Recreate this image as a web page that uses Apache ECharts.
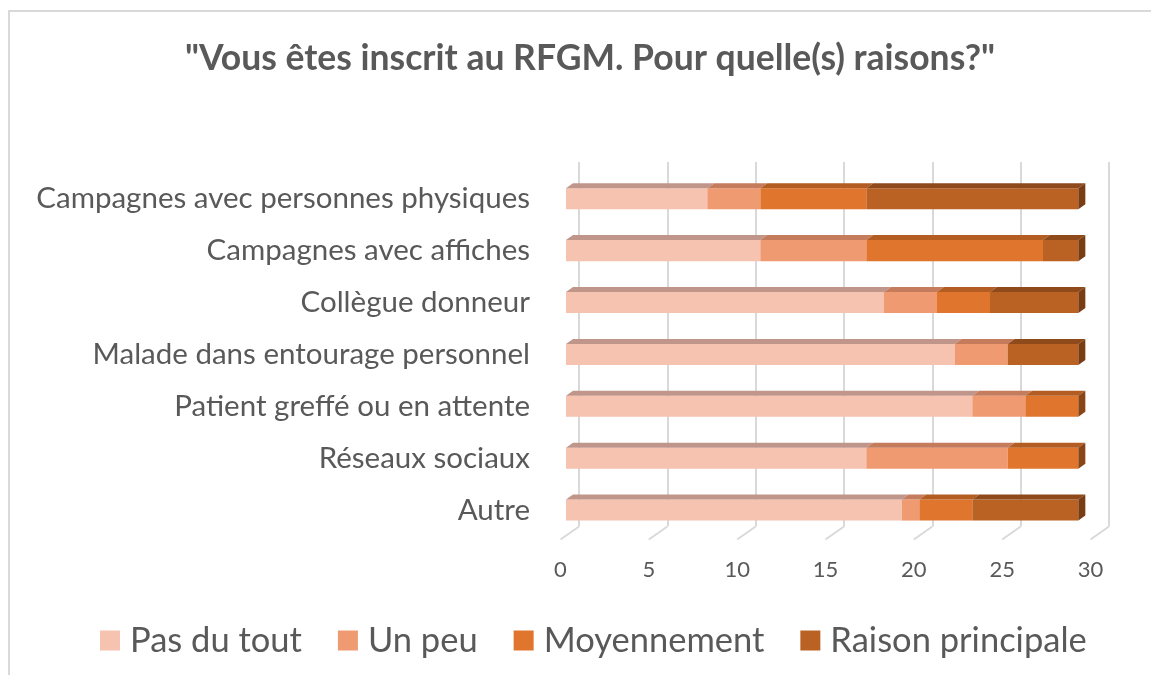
<!DOCTYPE html>
<html>
<head>
<meta charset="utf-8">
<script src="https://cdn.jsdelivr.net/npm/echarts@6/dist/echarts.min.js"></script>
<style>
  html, body { margin: 0; padding: 0; background: #fff; }
  #chart { width: 1151px; height: 675px; }
</style>
</head>
<body>
<div id="chart"></div>
<script>
// données
const categories = [
  'Campagnes avec personnes physiques',
  'Campagnes avec affiches',
  'Collègue donneur',
  'Malade dans entourage personnel',
  'Patient greffé ou en attente',
  'Réseaux sociaux',
  'Autre'
]
const seriesNames = ['Pas du tout', 'Un peu', 'Moyennement', 'Raison principale']
const pasDuTout = [8, 11, 18, 22, 23, 17, 19]
const unPeu = [3, 6, 3, 3, 3, 8, 1]
const moyennement = [6, 10, 3, 0, 3, 4, 3]
const raisonPrincipale = [12, 2, 5, 4, 0, 0, 6]
const axisTicks = [0, 5, 10, 15, 20, 25, 30]

const frontColors = ['#F5C3AF', '#F09A72', '#E0752D', '#BA6124']
const topColors = ['#C0968A', '#C47C5C', '#B35D22', '#8E4A1B']
const sideColors = ['#9A7268', '#9E5E44', '#8A4517', '#7A3C13']
const textColor = '#595959'
const font = 'Lato'
// décalage de profondeur (effet 3D)
const dx = 7
const dy = 5

const chart = echarts.init(document.getElementById('chart'))

const allValues = [pasDuTout, unPeu, moyennement, raisonPrincipale]
const totals = categories.map((c, k) => allValues.reduce((s, arr) => s + arr[k], 0))

function bar3dSeries(idx) {
  const values = allValues[idx]
  const data = values.map((v, k) => {
    let start = 0
    for (let j = 0; j < idx; j++) start += allValues[j][k]
    const end = start + v
    return [start, end, k, end === totals[k] ? 1 : 0]
  })
  return {
    type: 'custom',
    name: seriesNames[idx],
    xAxisIndex: 0,
    yAxisIndex: 0,
    itemStyle: { color: frontColors[idx] },
    encode: { x: [0, 1], y: 2 },
    data: data,
    renderItem: function (params, api) {
      const x0 = api.value(0)
      const x1 = api.value(1)
      const cat = api.value(2)
      if (x1 <= x0) return
      const a = api.coord([x0, cat])
      const b = api.coord([x1, cat])
      const h = api.size([0, 1])[1] * 0.405
      const top = a[1] - h / 2
      const children = [
        {
          type: 'rect',
          shape: { x: a[0], y: top, width: b[0] - a[0], height: h },
          style: { fill: frontColors[idx] }
        },
        {
          type: 'polygon',
          shape: { points: [[a[0], top], [a[0] + dx, top - dy], [b[0] + dx, top - dy], [b[0], top]] },
          style: { fill: topColors[idx] }
        }
      ]
      if (api.value(3)) {
        children.push({
          type: 'polygon',
          shape: { points: [[b[0], top], [b[0] + dx, top - dy], [b[0] + dx, top - dy + h], [b[0], top + h]] },
          style: { fill: sideColors[idx] }
        })
      }
      return { type: 'group', children: children }
    }
  }
}

const option = {
  animation: false,
  backgroundColor: '#fff',
  graphic: [{
    type: 'rect',
    shape: { x: 9, y: 11, width: 1200, height: 720 },
    style: { fill: 'none', stroke: '#D9D9D9', lineWidth: 2 },
    silent: true
  }],
  title: {
    text: '"Vous êtes inscrit au RFGM. Pour quelle(s) raisons?"',
    left: 585,
    top: 36,
    textAlign: 'center',
    textStyle: { fontFamily: font, fontWeight: 'bold', fontSize: 35.5, color: textColor }
  },
  legend: {
    data: seriesNames,
    left: 95,
    top: 618,
    icon: 'rect',
    itemWidth: 20,
    itemHeight: 20,
    itemGap: 36,
    textStyle: { fontFamily: font, fontSize: 34.5, color: textColor, padding: [0, 0, 0, 5] }
  },
  grid: [
    // barres (face avant)
    { left: 566, width: 530, top: 172.8, height: 363.2 },
    // mur du fond
    { left: 579, width: 530, top: 162, bottom: 148.5 },
    // étiquettes de l'axe
    { left: 560.5, width: 530, top: 172.8, bottom: 135.5 }
  ],
  xAxis: [
    { gridIndex: 0, type: 'value', min: 0, max: 30, interval: 5, show: false },
    {
      gridIndex: 1, type: 'value', min: 0, max: 30, interval: 5,
      axisLine: { show: false }, axisTick: { show: false }, axisLabel: { show: false },
      splitLine: { show: true, lineStyle: { color: '#D9D9D9', width: 2 } }
    },
    {
      gridIndex: 2, type: 'value', min: 0, max: 30, interval: 5,
      axisLine: { show: false }, axisTick: { show: false }, splitLine: { show: false },
      axisLabel: { margin: 19, fontFamily: font, fontSize: 22, color: textColor }
    }
  ],
  yAxis: [
    {
      gridIndex: 0, type: 'category', data: categories, inverse: true,
      axisLine: { show: false }, axisTick: { show: false },
      axisLabel: { margin: 36, fontFamily: font, fontSize: 29.5, color: textColor }
    },
    { gridIndex: 1, type: 'value', min: 0, max: 1, show: false },
    { gridIndex: 2, type: 'value', min: 0, max: 1, show: false }
  ],
  series: [
    // lignes du sol
    {
      type: 'custom',
      xAxisIndex: 1,
      yAxisIndex: 1,
      silent: true,
      data: axisTicks.map(t => [t, 0]),
      renderItem: function (params, api) {
        const p = api.coord([api.value(0), 0])
        return {
          type: 'line',
          shape: { x1: p[0], y1: p[1], x2: p[0] - 18.5, y2: p[1] + 13 },
          style: { stroke: '#D9D9D9', lineWidth: 2 }
        }
      }
    },
    bar3dSeries(0),
    bar3dSeries(1),
    bar3dSeries(2),
    bar3dSeries(3)
  ]
}

chart.setOption(option)
</script>
</body>
</html>
